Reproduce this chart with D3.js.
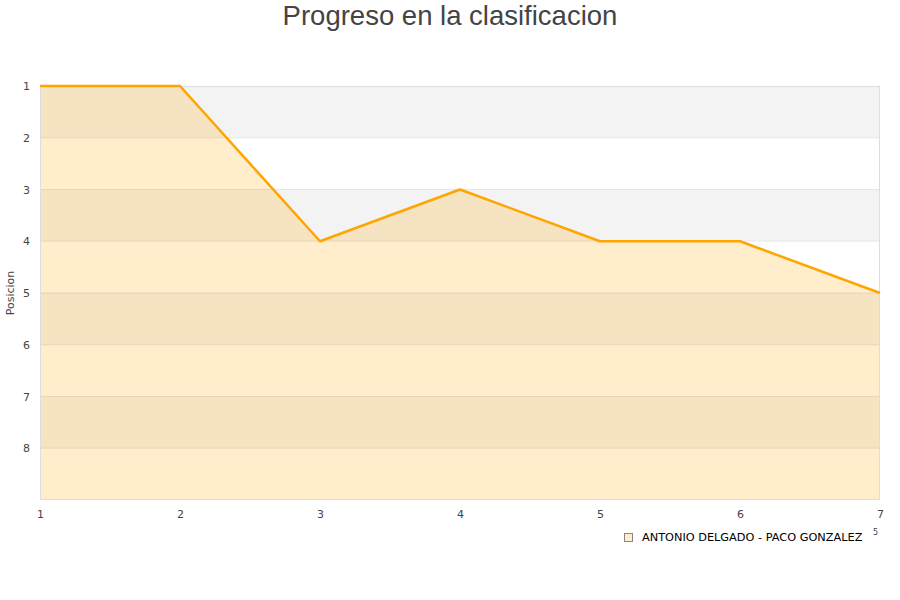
<!DOCTYPE html>
<html><head><meta charset="utf-8">
<script src="https://cdn.jsdelivr.net/npm/d3@7"></script>
<style>body{margin:0;background:#fff}svg{display:block}</style>
</head><body>
<script>
const title = "Progreso en la clasificacion";
const yLabel = "Posicion";
const rounds = [1, 2, 3, 4, 5, 6, 7];
const positions = [1, 1, 4, 3, 4, 4, 5];
const yTicks = [1, 2, 3, 4, 5, 6, 7, 8];
const seriesName = "ANTONIO DELGADO - PACO GONZALEZ";

const W = 900, H = 600;
const m = {l: 40, r: 20, t: 86, b: 100};
const svg = d3.select("body").append("svg").attr("width", W).attr("height", H);
const x = d3.scaleLinear().domain([1, 7]).range([m.l, W - m.r]);
const y = d3.scaleLinear().domain([1, 9]).range([m.t, H - m.b]);
const font = "DejaVu Sans, sans-serif";

// bands
const bands = d3.range(1, 9);
svg.append("g").selectAll("rect").data(bands).join("rect")
  .attr("x", m.l).attr("width", x(7) - m.l)
  .attr("y", d => y(d)).attr("height", d => y(d + 1) - y(d))
  .attr("fill", d => d % 2 === 1 ? "#f3f3f3" : "#ffffff");

// area
const area = d3.area().x((d, i) => x(rounds[i])).y0(y(9)).y1(d => y(d));
svg.append("path").datum(positions).attr("d", area)
  .attr("fill", "rgba(255,165,0,0.2)");

// grid lines
svg.append("g").selectAll("line").data(yTicks.slice(1)).join("line")
  .attr("x1", m.l).attr("x2", x(7)).attr("y1", d => y(d)).attr("y2", d => y(d))
  .attr("stroke", "#000").attr("stroke-opacity", 0.08);

// border
svg.append("rect").attr("x", m.l + 0.5).attr("y", m.t + 0.5)
  .attr("width", x(7) - m.l - 1).attr("height", y(9) - m.t - 1)
  .attr("fill", "none").attr("stroke", "#ddd");

// line
const line = d3.line().x((d, i) => x(rounds[i])).y(d => y(d));
svg.append("path").datum(positions).attr("d", line)
  .attr("fill", "none").attr("stroke", "#ffa500").attr("stroke-width", 2.5)
  .attr("stroke-linejoin", "round");

// y axis labels
const ya = d3.axisLeft(y).tickValues(yTicks).tickSize(0).tickPadding(10);
const gy = svg.append("g").attr("transform", `translate(${m.l},0)`).call(ya);
gy.select(".domain").remove();
gy.selectAll("text").attr("font-family", font).attr("font-size", 11).attr("fill", "#444");

// x axis labels
const xa = d3.axisBottom(x).tickValues(rounds).tickFormat(d3.format("d")).tickSize(0).tickPadding(10);
const gx = svg.append("g").attr("transform", `translate(0,${y(9)})`).call(xa);
gx.select(".domain").remove();
gx.selectAll("text").attr("font-family", font).attr("font-size", 11).attr("fill", "#444");

// title
svg.append("text").attr("x", W / 2).attr("y", 25).attr("text-anchor", "middle")
  .attr("font-family", "Liberation Sans, Arial, sans-serif").attr("font-size", 27.5)
  .attr("fill", "#444").text(title);

// y label
svg.append("text").attr("transform", `translate(14,${(m.t + y(9)) / 2}) rotate(-90)`)
  .attr("text-anchor", "middle").attr("font-family", font).attr("font-size", 11)
  .attr("fill", "#444").text(yLabel);

// legend
const lg = svg.append("g").attr("transform", "translate(624,533)");
lg.append("rect").attr("x", 0.5).attr("y", 0.5).attr("width", 8).attr("height", 8)
  .attr("fill", "#ffedcc").attr("stroke", "#888");
lg.append("text").attr("x", 18).attr("y", 8).attr("font-family", font)
  .attr("font-size", 11.3).attr("fill", "#000").text(seriesName);
lg.append("text").attr("x", 249).attr("y", 2).attr("font-family", font)
  .attr("font-size", 8).attr("fill", "#444").text("5");
</script>
</body></html>
